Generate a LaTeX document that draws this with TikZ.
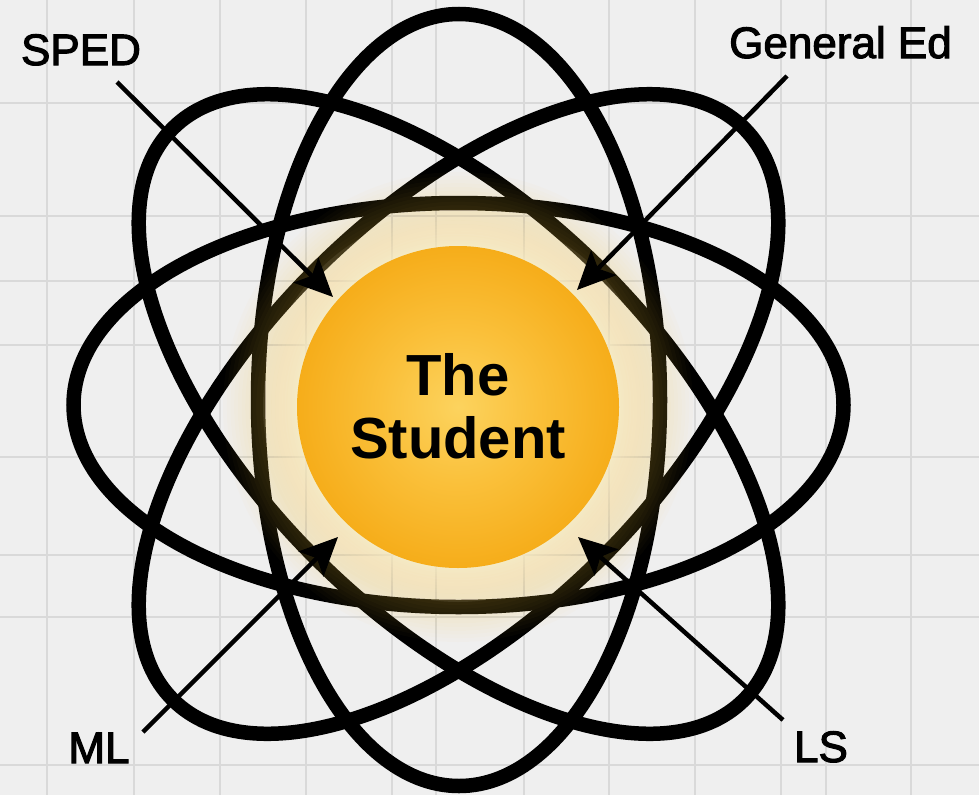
\documentclass[tikz,border=0pt]{standalone}
\usepackage{fontspec}
\setmainfont{Liberation Sans}
\newfontfamily\lblfont[FakeBold=2.5]{Liberation Sans}
\usetikzlibrary{arrows.meta}
\definecolor{bgc}{HTML}{EFEFEF}
\definecolor{gridc}{HTML}{D9D9D9}
\definecolor{glowwide}{HTML}{F2C444}
\definecolor{glownear}{HTML}{FFF6D8}
\definecolor{sinner}{HTML}{FCD35E}
\definecolor{smid}{HTML}{FAC03A}
\definecolor{souter}{HTML}{F6AD1A}
\pgfdeclareradialshading{studentshade}{\pgfpoint{0bp}{0bp}}{color(0bp)=(sinner); color(12bp)=(smid); color(25bp)=(souter); color(50bp)=(souter)}
\begin{document}
\begin{tikzpicture}[x=1pt, y=-1pt,
  orbit/.style={line width=14.5pt, black},
  gridline/.style={gridc, line width=1.8pt},
  arr/.style={line width=4.5pt, black, -{Stealth[length=38pt, width=35pt, inset=8pt]}},
  lbl/.style={inner sep=0pt, font=\lblfont\fontsize{44}{52}\selectfont, text=black, anchor=base}]
\fill[bgc] (0,0) rectangle (979,795);
\useasboundingbox (0,0) rectangle (979,795);
% grid
\foreach \gx in {47,134,220,306,392,436,524,609,695,781,826,911}
  \draw[gridline] (\gx,0) -- (\gx,795);
\foreach \gy in {103,216,281,345,457,555,617,765}
  \draw[gridline] (0,\gy) -- (979,\gy);
% orbits
\draw[orbit] (459,400) ellipse [x radius=201pt, y radius=386pt];
\draw[orbit] (458.5,405) ellipse [x radius=385pt, y radius=202pt];
\begin{scope}[shift={(458.5,414)}, rotate=-45]
  \draw[orbit] (0,0) ellipse [x radius=404pt, y radius=203pt];
\end{scope}
\begin{scope}[shift={(458.5,414)}, rotate=45]
  \draw[orbit] (0,0) ellipse [x radius=404pt, y radius=203pt];
\end{scope}
% glow: wide warm tint, then a bright narrow halo
\foreach \i [evaluate=\i as \rr using 161+3.7*\i] in {0,...,20}
  \fill[glowwide, opacity=0.025] (458,407) circle [radius=\rr pt];
\foreach \i [evaluate=\i as \rr using 161+34*(\i/15)*(\i/15)] in {1,...,15}
  \fill[glownear, opacity=0.085] (458,407) circle [radius=\rr pt];
% the student
\node[circle, minimum size=322pt, inner sep=0pt, shading=studentshade] (student) at (458,407) {};
\node[font=\bfseries\fontsize{58}{63}\selectfont, align=center, inner sep=0pt, text=black] (studenttext) at (458,406) {The\\Student};
% arrows
\coordinate (spedS) at (117,82);  \coordinate (spedT) at (333,297);
\coordinate (genS) at (787,76);   \coordinate (genT) at (577,290);
\coordinate (mlS) at (143,732);   \coordinate (mlT) at (338,537);
\coordinate (lsS) at (783,720);   \coordinate (lsT) at (578,537);
\draw[arr] (spedS) -- (spedT);
\draw[arr] (genS) -- (genT);
\draw[arr] (mlS) -- (mlT);
\draw[arr] (lsS) -- (lsT);
% labels
\node[lbl] (sped) at (81,65) {SPED};
\node[lbl] (gen) at (840.5,58) {General Ed};
\node[lbl] (ml) at (99,763) {ML};
\node[lbl] (ls) at (821,762) {LS};
\end{tikzpicture}
\end{document}
